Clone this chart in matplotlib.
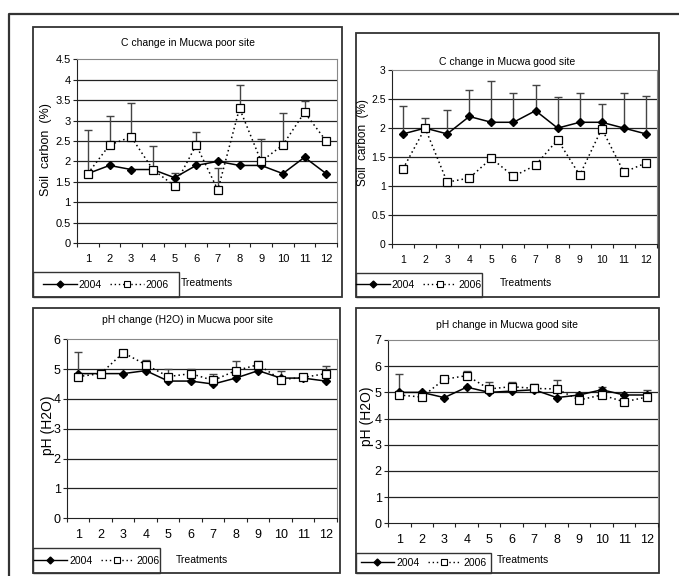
import numpy as np
import matplotlib
matplotlib.use("Agg")
import matplotlib.pyplot as plt
from matplotlib.patches import Rectangle
from matplotlib.lines import Line2D

plt.rcParams['font.family'] = ['Liberation Sans', 'DejaVu Sans']
NARROW = ['Liberation Sans Narrow', 'Liberation Sans', 'DejaVu Sans']

# ---- data ----
treatments = list(range(1, 13))

c_poor_2004 = [1.7, 1.9, 1.8, 1.8, 1.6, 1.9, 2.0, 1.9, 1.9, 1.7, 2.1, 1.7]
c_poor_2006 = [1.7, 2.4, 2.6, 1.8, 1.4, 2.4, 1.3, 3.3, 2.0, 2.4, 3.2, 2.5]
c_poor_top = [2.78, 3.12, 3.42, 2.38, 1.72, 2.73, 1.83, 3.86, 2.54, 3.19, 3.48, np.nan]

c_good_2004 = [1.9, 2.0, 1.9, 2.2, 2.1, 2.1, 2.3, 2.0, 2.1, 2.1, 2.0, 1.9]
c_good_2006 = [1.3, 2.0, 1.07, 1.14, 1.48, 1.17, 1.36, 1.8, 1.19, 1.99, 1.24, 1.4]
c_good_top = [2.38, 2.18, 2.32, 2.66, 2.81, 2.61, 2.75, 2.54, 2.61, 2.41, 2.61, 2.56]

ph_poor_2004 = [4.85, 4.85, 4.85, 4.95, 4.6, 4.6, 4.5, 4.7, 4.95, 4.7, 4.7, 4.6]
ph_poor_2006 = [4.75, 4.85, 5.55, 5.15, 4.75, 4.85, 4.62, 4.95, 5.15, 4.65, 4.72, 4.85]
ph_poor_top = [5.57, np.nan, np.nan, 5.3, 5.0, 5.0, 4.83, 5.28, 5.27, 4.95, 4.78, 5.11]

ph_good_2004 = [5.0, 5.0, 4.8, 5.2, 5.0, 5.05, 5.1, 4.8, 4.9, 5.1, 4.9, 4.9]
ph_good_2006 = [4.9, 4.82, 5.5, 5.64, 5.13, 5.22, 5.15, 5.13, 4.71, 4.9, 4.64, 4.82]
ph_good_top = [5.7, np.nan, np.nan, 5.82, 5.41, 5.41, 5.32, 5.48, 4.96, 5.19, np.nan, 5.1]

W, H = 679, 576
fig = plt.figure(figsize=(W / 100, H / 100), dpi=100)

# background axes in pixel coords for frames
bg = fig.add_axes([0, 0, 1, 1], zorder=-5)
bg.set_xlim(0, W); bg.set_ylim(H, 0); bg.axis('off')
bg.plot([9, 9, W], [H, 14, 14], color='#333333', lw=1.6)


def px_axes(x0, y0, x1, y1):
    return fig.add_axes([x0 / W, 1 - y1 / H, (x1 - x0) / W, (y1 - y0) / H])


def panel(frame, area, legbox, title, title_xy, ylabel, ylab_xy, treat_xy,
          v04, v06, top, base, ymax, ystep, fs, lfs):
    fx0, fy0, fx1, fy1 = frame
    bg.add_patch(Rectangle((fx0, fy0), fx1 - fx0, fy1 - fy0, fill=False,
                           ec='#333333', lw=1.3))
    lx0, ly0, lx1, ly1 = legbox
    bg.add_patch(Rectangle((lx0, ly0), lx1 - lx0, ly1 - ly0, fill=False,
                           ec='#333333', lw=1.0))
    bg.text(*title_xy, title, ha='center', va='center', fontsize=7.5,
            family=NARROW)
    bg.text(*ylab_xy, ylabel, ha='center', va='center', rotation=90,
            fontsize=lfs)
    bg.text(*treat_xy, 'Treatments', ha='center', va='center', fontsize=7.5,
            family=NARROW)

    ax = px_axes(*area)
    x = np.array(treatments)
    ax.set_xlim(0.5, 12.5)
    ax.set_ylim(0, ymax)
    yt = np.arange(0, ymax + ystep / 2, ystep)
    ax.set_yticks(yt)
    ax.set_yticklabels(['%g' % v for v in yt], fontsize=fs)
    for v in yt[1:-1]:
        ax.axhline(v, color='#222222', lw=0.9, zorder=1)
    ax.set_xticks(np.arange(0.5, 13, 1))
    ax.set_xticklabels([])
    ax.set_xticks(x, minor=True)
    ax.set_xticklabels([str(t) for t in treatments], minor=True, fontsize=fs)
    ax.tick_params(axis='x', which='major', length=3, direction='out',
                   color='#222222')
    ax.tick_params(axis='x', which='minor', length=0, pad=8)
    ax.tick_params(axis='y', length=3, pad=1.5, color='#222222')
    for s in ('left', 'bottom'):
        ax.spines[s].set_color('#222222')
    for s in ('top', 'right'):
        ax.spines[s].set_color('#888888')

    # error bars (upper only)
    b = np.array(base, dtype=float)
    t = np.array(top, dtype=float)
    ok = ~np.isnan(t)
    ax.vlines(x[ok], b[ok], t[ok], color='#444444', lw=1.0, zorder=2)
    ax.plot(x[ok], t[ok], ls='none', marker='_', ms=6, mew=1.0,
            color='#444444', zorder=2)

    ax.plot(x, v04, color='black', lw=1.1, marker='D', ms=4.0, mfc='black',
            mec='black', zorder=3, clip_on=False)
    ax.plot(x, v06, color='black', lw=1.1, ls=(0, (1, 2)), marker='s', ms=6,
            mfc='white', mec='black', mew=0.9, zorder=4, clip_on=False)

    h1 = Line2D([], [], color='black', lw=1.0, marker='D', ms=3.5)
    h2 = Line2D([], [], color='black', lw=1.0, ls=(0, (1, 2)), marker='s',
                ms=5, mfc='white', mew=0.8)
    cx = (lx0 + lx1) / 2 / W
    cy = 1 - (ly0 + ly1) / 2 / H
    fig.legend([h1, h2], ['2004', '2006'], loc='center',
               bbox_to_anchor=(cx, cy), ncol=2, frameon=False,
               prop={'family': NARROW, 'size': 7.5}, handlelength=3.2,
               handletextpad=0.2, columnspacing=0.8, borderpad=0)
    return ax


panel((33, 27, 342, 297), (77, 59.3, 337, 243), (33, 272, 179, 297),
      'C change in Mucwa poor site', (188, 43), 'Soil  carbon  (%)', (46, 150),
      (207, 283), c_poor_2004, c_poor_2006, c_poor_top, c_poor_2006,
      4.5, 0.5, 8, 9)

panel((356, 33, 659, 297), (392, 70, 657, 244.3), (356, 273, 482, 297),
      'C change in Mucwa good site', (507, 62), 'Soil  carbon  (%)', (363, 143),
      (526, 283), c_good_2004, c_good_2006, c_good_top, c_good_2004,
      3, 0.5, 7.5, 8.5)

panel((33, 308, 340, 573), (67, 339.3, 337, 518.3), (33, 548, 160, 573),
      'pH change (H2O) in Mucwa poor site', (188, 320), 'pH (H2O)', (48, 425),
      (202, 560), ph_poor_2004, ph_poor_2006, ph_poor_top, ph_poor_2006,
      6, 1, 9, 10)

panel((356, 308, 659, 573), (388, 340, 658, 523.3), (356, 553, 491, 573),
      'pH change in Mucwa good site', (507, 325), 'pH (H2O)', (367, 416),
      (523, 560), ph_good_2004, ph_good_2006, ph_good_top, ph_good_2006,
      7, 1, 9, 10)

fig.savefig('out.png', dpi=100)
